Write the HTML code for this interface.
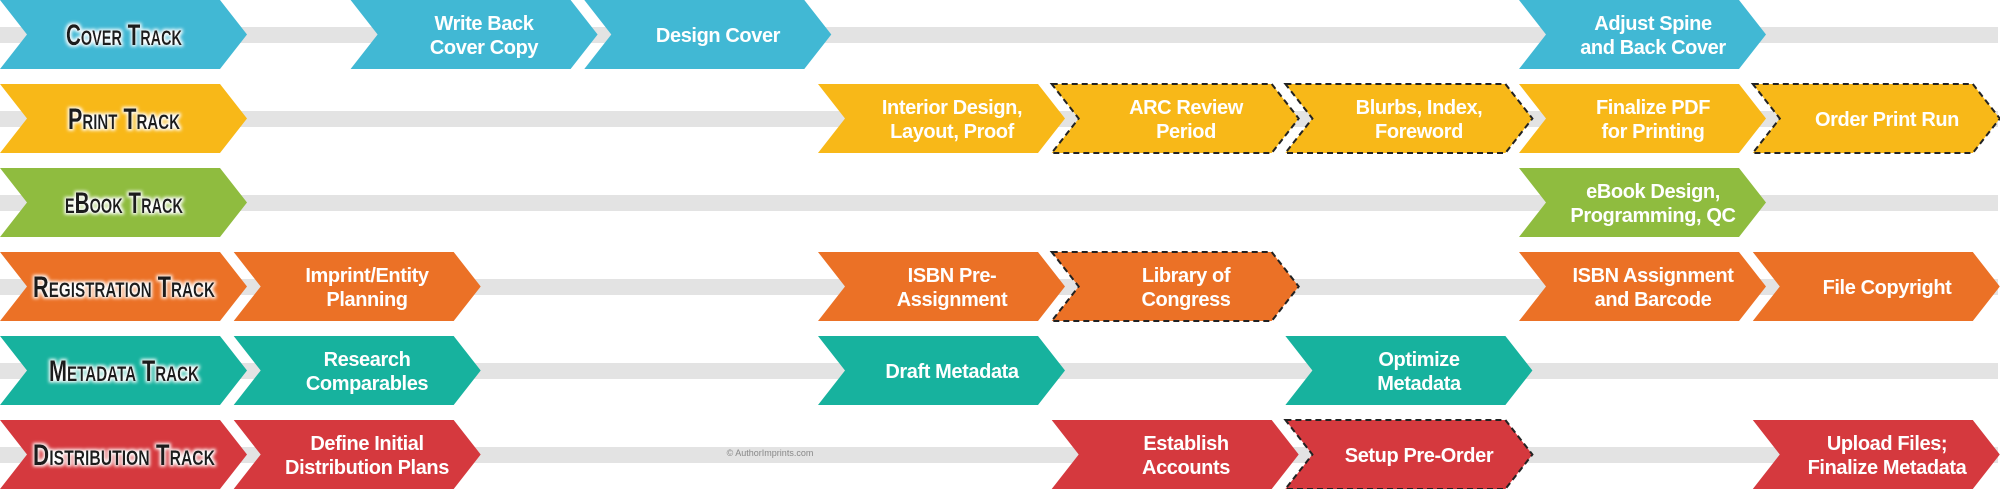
<!DOCTYPE html>
<html><head><meta charset="utf-8"><style>
html,body{margin:0;padding:0;background:#fff;}
svg{display:block;}
.t{font-family:"Liberation Sans",sans-serif;font-weight:bold;font-size:20px;fill:#fff;text-anchor:middle;letter-spacing:-0.4px;}
.l{font-family:"Liberation Sans",sans-serif;font-weight:bold;fill:#1e1e1e;text-anchor:middle;font-variant:small-caps;font-size:30px;}
</style></head><body>
<svg width="2000" height="489" viewBox="0 0 2000 489" xmlns="http://www.w3.org/2000/svg">
<defs>
<path id="c" d="M0 0H220L247 34.5L220 69H0L27 34.5Z"/>
<filter id="g" x="-10%" y="-30%" width="120%" height="160%">
<feMorphology in="SourceAlpha" operator="dilate" radius="1.5" result="d"/>
<feGaussianBlur in="d" stdDeviation="1.5" result="b"/>
<feFlood flood-color="#fff"/><feComposite in2="b" operator="in" result="w"/>
<feMerge><feMergeNode in="w"/><feMergeNode in="SourceGraphic"/></feMerge>
</filter>
</defs>
<g fill="#e3e3e3">
<rect x="0" y="27" width="1998" height="16"/>
<rect x="0" y="111" width="1998" height="16"/>
<rect x="0" y="195" width="1998" height="16"/>
<rect x="0" y="279" width="1998" height="16"/>
<rect x="0" y="363" width="1998" height="16"/>
<rect x="0" y="447" width="1998" height="16"/>
</g>
<text x="770" y="456" font-family="Liberation Sans,sans-serif" font-size="9" fill="#888" text-anchor="middle">© AuthorImprints.com</text>

<g fill="#41b8d4">
<use href="#c" x="0" y="0"/><use href="#c" x="350.6" y="0"/><use href="#c" x="584.3" y="0"/><use href="#c" x="1519" y="0"/>
</g>
<text class="l" x="124" y="45" filter="url(#g)" textLength="116" lengthAdjust="spacingAndGlyphs">Cover Track</text>
<text class="t" x="484" y="30">Write Back</text><text class="t" x="484" y="54">Cover Copy</text>
<text class="t" x="718" y="42">Design Cover</text>
<text class="t" x="1653" y="30">Adjust Spine</text><text class="t" x="1653" y="54">and Back Cover</text>

<g fill="#f8b818" transform="translate(0,84)">
<use href="#c" x="0"/><use href="#c" x="818"/>
<use href="#c" x="1051.7" stroke="#222" stroke-width="2" stroke-dasharray="6 4"/>
<use href="#c" x="1285.4" stroke="#222" stroke-width="2" stroke-dasharray="6 4"/>
<use href="#c" x="1519"/>
<use href="#c" x="1752.8" stroke="#222" stroke-width="2" stroke-dasharray="6 4"/>
</g>
<text class="l" x="124" y="129" filter="url(#g)" textLength="112" lengthAdjust="spacingAndGlyphs">Print Track</text>
<text class="t" x="952" y="114">Interior Design,</text><text class="t" x="952" y="138">Layout, Proof</text>
<text class="t" x="1186" y="114">ARC Review</text><text class="t" x="1186" y="138">Period</text>
<text class="t" x="1419" y="114">Blurbs, Index,</text><text class="t" x="1419" y="138">Foreword</text>
<text class="t" x="1653" y="114">Finalize PDF</text><text class="t" x="1653" y="138">for Printing</text>
<text class="t" x="1887" y="126">Order Print Run</text>

<g fill="#8fbc3f" transform="translate(0,168)">
<use href="#c" x="0"/><use href="#c" x="1519"/>
</g>
<text class="l" x="124" y="213" filter="url(#g)" textLength="118" lengthAdjust="spacingAndGlyphs">eBook Track</text>
<text class="t" x="1653" y="198">eBook Design,</text><text class="t" x="1653" y="222">Programming, QC</text>

<g fill="#eb7126" transform="translate(0,252)">
<use href="#c" x="0"/><use href="#c" x="233.7"/><use href="#c" x="818"/>
<use href="#c" x="1051.7" stroke="#222" stroke-width="2" stroke-dasharray="6 4"/>
<use href="#c" x="1519"/><use href="#c" x="1752.8"/>
</g>
<text class="l" x="124" y="297" filter="url(#g)" textLength="182" lengthAdjust="spacingAndGlyphs">Registration Track</text>
<text class="t" x="367" y="282">Imprint/Entity</text><text class="t" x="367" y="306">Planning</text>
<text class="t" x="952" y="282">ISBN Pre-</text><text class="t" x="952" y="306">Assignment</text>
<text class="t" x="1186" y="282">Library of</text><text class="t" x="1186" y="306">Congress</text>
<text class="t" x="1653" y="282">ISBN Assignment</text><text class="t" x="1653" y="306">and Barcode</text>
<text class="t" x="1887" y="294">File Copyright</text>

<g fill="#17b29e" transform="translate(0,336)">
<use href="#c" x="0"/><use href="#c" x="233.7"/><use href="#c" x="818"/><use href="#c" x="1285.4"/>
</g>
<text class="l" x="124" y="381" filter="url(#g)" textLength="150" lengthAdjust="spacingAndGlyphs">Metadata Track</text>
<text class="t" x="367" y="366">Research</text><text class="t" x="367" y="390">Comparables</text>
<text class="t" x="952" y="378">Draft Metadata</text>
<text class="t" x="1419" y="366">Optimize</text><text class="t" x="1419" y="390">Metadata</text>

<g fill="#d5393e" transform="translate(0,420)">
<use href="#c" x="0"/><use href="#c" x="233.7"/><use href="#c" x="1051.7"/>
<use href="#c" x="1285.4" stroke="#222" stroke-width="2" stroke-dasharray="6 4"/>
<use href="#c" x="1752.8"/>
</g>
<text class="l" x="124" y="465" filter="url(#g)" textLength="182" lengthAdjust="spacingAndGlyphs">Distribution Track</text>
<text class="t" x="367" y="450">Define Initial</text><text class="t" x="367" y="474">Distribution Plans</text>
<text class="t" x="1186" y="450">Establish</text><text class="t" x="1186" y="474">Accounts</text>
<text class="t" x="1419" y="462">Setup Pre-Order</text>
<text class="t" x="1887" y="450">Upload Files;</text><text class="t" x="1887" y="474">Finalize Metadata</text>
</svg>
</body></html>
